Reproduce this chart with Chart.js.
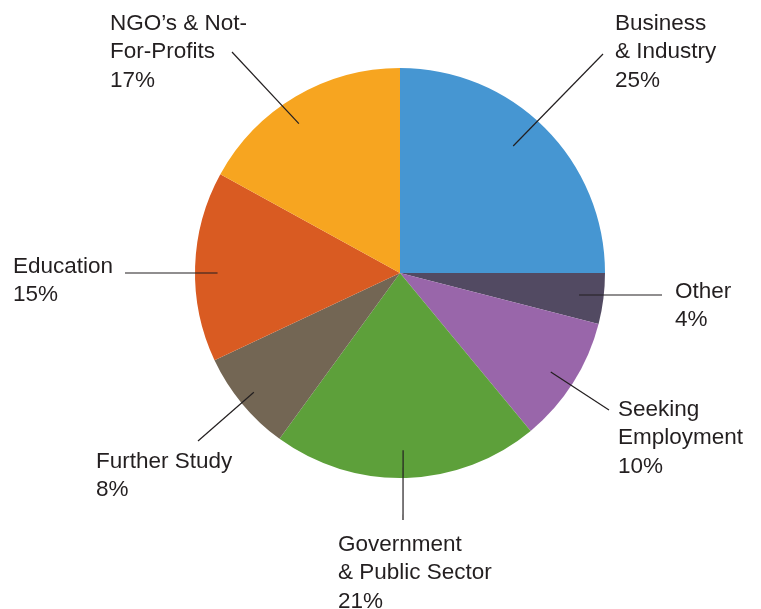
<!DOCTYPE html>
<html>
<head>
<meta charset="utf-8">
<script src="https://cdn.jsdelivr.net/npm/chart.js@4"></script>
<style>
  html, body { margin: 0; padding: 0; background: #fff; }
  #wrap { width: 761px; height: 609px; }
</style>
</head>
<body>
<div id="wrap"><canvas id="pie"></canvas></div>
<script>
// data
const categories = [
    ['Business', '& Industry'],
    ['Other'],
    ['Seeking', 'Employment'],
    ['Government', '& Public Sector'],
    ['Further Study'],
    ['Education'],
    ['NGO\u2019s & Not-', 'For-Profits'],
];
const shares = [25, 4, 10, 21, 8, 15, 17];
const colors = ['#4696d2', '#524a62', '#9966aa', '#5da03a', '#736654', '#d95b22', '#f7a520'];

// label placement: text top-left, leader line end, and where the line starts
// inside the slice (angle nudge in degrees, fraction of radius)
const labelPos = [
    { x: 615, y: 10,  lx: 603, ly: 54,  da: -3.3, rf: 0.83 },
    { x: 675, y: 278, lx: 662, ly: 295, da: -0.2, rf: 0.88 },
    { x: 618, y: 396, lx: 609, ly: 410, da: 0.9,  rf: 0.88 },
    { x: 338, y: 531, lx: 403, ly: 520, da: 0.8,  rf: 0.865 },
    { x: 96,  y: 448, lx: 198, ly: 441, da: 0.4,  rf: 0.92 },
    { x: 13,  y: 253, lx: 125, ly: 273, da: -1.8, rf: 0.89 },
    { x: 110, y: 10,  lx: 232, ly: 52,  da: -3.5, rf: 0.88 },
];

const calloutPlugin = {
    id: 'callouts',
    afterDatasetsDraw(chart) {
        const ctx = chart.ctx;
        const arcs = chart.getDatasetMeta(0).data;
        ctx.save();
        arcs.forEach(function (arc, i) {
            const p = labelPos[i];
            const mid = (arc.startAngle + arc.endAngle) / 2 + p.da * Math.PI / 180;
            const r = arc.outerRadius * p.rf;
            const sx = arc.x + Math.cos(mid) * r;
            const sy = arc.y + Math.sin(mid) * r;
            ctx.strokeStyle = '#231f20';
            ctx.lineWidth = 1.2;
            ctx.beginPath();
            ctx.moveTo(sx, sy);
            ctx.lineTo(p.lx, p.ly);
            ctx.stroke();

            ctx.fillStyle = '#231f20';
            ctx.font = '22.5px "Liberation Sans", Arial, sans-serif';
            ctx.textBaseline = 'middle';
            ctx.textAlign = 'left';
            const lines = categories[i].concat([shares[i] + '%']);
            lines.forEach(function (t, k) {
                ctx.fillText(t, p.x, p.y + 13.5 + k * 28.5);
            });
        });
        ctx.restore();
    },
};

new Chart(document.getElementById('pie'), {
    type: 'pie',
    data: {
        labels: categories.map(function (c) { return c.join(' '); }),
        datasets: [{
            data: shares,
            backgroundColor: colors,
            borderWidth: 0,
        }],
    },
    options: {
        responsive: true,
        maintainAspectRatio: false,
        animation: false,
        layout: {
            padding: { top: 68, bottom: 131, left: 195, right: 156 },
        },
        plugins: {
            legend: { display: false },
            tooltip: { enabled: false },
        },
    },
    plugins: [calloutPlugin],
});
</script>
</body>
</html>
